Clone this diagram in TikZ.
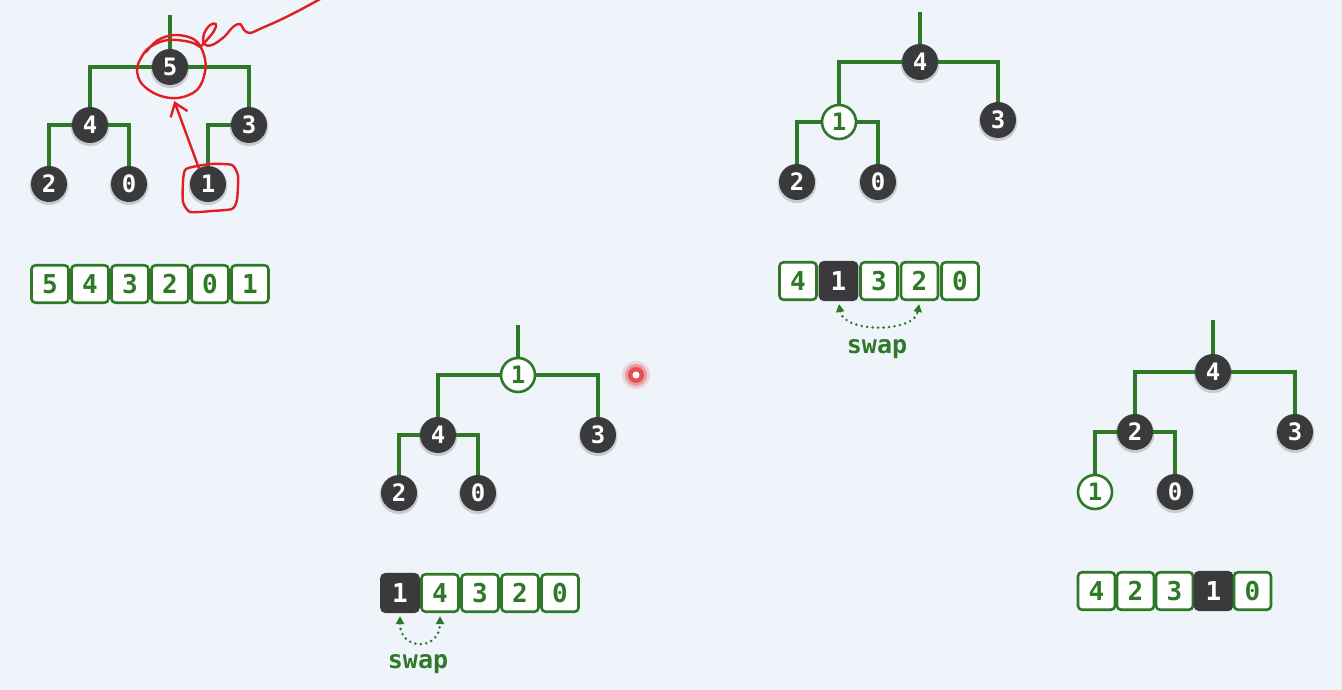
\documentclass[tikz,border=0pt]{standalone}
\usepackage{fontspec}
\newfontfamily\mono{DejaVu Sans Mono}
\usetikzlibrary{arrows.meta,shadows}
\definecolor{bgc}{RGB}{239,244,251}
\definecolor{hgreen}{RGB}{46,120,40}
\definecolor{nodegray}{RGB}{58,58,60}
\definecolor{pen}{RGB}{225,30,35}
\tikzset{
  dk/.style={circle, fill=nodegray, text=white, minimum size=36pt, inner sep=0pt,
    font=\mono\bfseries\fontsize{24}{26}\selectfont,
    drop shadow={opacity=0.35, shadow xshift=0pt, shadow yshift=-1.5pt, shadow scale=1.08}},
  hl/.style={circle, draw=hgreen, line width=2.6pt, fill=white, text=hgreen, minimum size=34pt, inner sep=0pt,
    font=\mono\bfseries\fontsize{24}{26}\selectfont},
  edge/.style={draw=hgreen, line width=3.2pt},
  cell/.style={rectangle, rounded corners=4pt, draw=hgreen, line width=2.6pt, fill=white, text=hgreen,
    minimum width=37pt, minimum height=37.5pt, inner sep=0pt,
    font=\mono\bfseries\fontsize{26}{28}\selectfont},
  dcell/.style={cell, fill=nodegray, draw=nodegray, text=white},
  swaparrow/.style={draw=hgreen, line width=2.8pt, line cap=round, dash pattern=on 0pt off 5.5pt,
    {Triangle[length=8pt,width=8pt]}-{Triangle[length=8pt,width=8pt]}, shorten <=3pt, shorten >=3pt},
  swaptxt/.style={text=hgreen, font=\mono\bfseries\fontsize{25}{27}\selectfont},
  redpen/.style={draw=pen, line width=2.4pt, line cap=round, line join=round}
}
\begin{document}
\begin{tikzpicture}[x=1pt,y=-1pt]
\fill[bgc] (0,0) rectangle (1342,690);
\useasboundingbox (0,0) rectangle (1342,690);

% ---------- Tree 1 ----------
\coordinate (t1) at (170,15);
\node[dk] (a1r) at (170,67) {5};
\node[dk] (a1l) at (90,125) {4};
\node[dk] (a1rr) at (249,125) {3};
\node[dk] (a1ll) at (49,184) {2};
\node[dk] (a1lr) at (129,184) {0};
\node[dk] (a1n) at (208,184) {1};
\draw[edge] (t1) -- (a1r);
\draw[edge] (a1r) -| (a1l);
\draw[edge] (a1r) -| (a1rr);
\draw[edge] (a1l) -| (a1ll);
\draw[edge] (a1l) -| (a1lr);
\draw[edge] (a1rr) -| (a1n);

\node[cell] (c1a) at (50,284) {5};
\node[cell] (c1b) at (90,284) {4};
\node[cell] (c1c) at (130,284) {3};
\node[cell] (c1d) at (170,284) {2};
\node[cell] (c1e) at (210,284) {0};
\node[cell] (c1f) at (250,284) {1};

% red annotations
\draw[redpen] plot[smooth, tension=0.6] coordinates {(146,52) (158,40) (176,35) (195,40) (204,55) (205,72) (197,90) (178,98) (158,95) (142,84) (137,70) (141,58) (150,47) (168,40) (190,42) (200,47)};
\draw[redpen] plot[smooth, tension=0.6] coordinates {(200,47) (206,41) (214,31) (216,24) (210,25) (204,34) (204,44) (212,45) (224,37) (233,27) (240,24) (244,30) (250,33) (262,28) (280,20) (300,10) (322,-2)};
\draw[redpen] plot[smooth cycle, tension=0.35] coordinates {(186,169) (210,164) (232,165) (238,176) (237,200) (232,209) (212,211) (190,212) (183,202) (183,182)};
\draw[redpen, -{Straight Barb[length=12pt,width=18pt]}, shorten >=17pt] (a1n.120) -- (a1r.-95);

% red target marker
\fill[pen, opacity=0.15] (636,375) circle (14);
\fill[pen, opacity=0.3] (636,375) circle (11);
\fill[pen, opacity=0.6] (636,375) circle (8);
\fill[white] (636,375) circle (3.5);

% ---------- Tree 2 ----------
\coordinate (t2) at (518,325);
\node[hl] (a2r) at (518,375) {1};
\node[dk] (a2l) at (438,435) {4};
\node[dk] (a2rr) at (598,435) {3};
\node[dk] (a2ll) at (399,493) {2};
\node[dk] (a2lr) at (478,493) {0};
\draw[edge] (t2) -- (a2r);
\draw[edge] (a2r) -| (a2l);
\draw[edge] (a2r) -| (a2rr);
\draw[edge] (a2l) -| (a2ll);
\draw[edge] (a2l) -| (a2lr);

\node[dcell] (c2a) at (400,593) {1};
\node[cell] (c2b) at (440,593) {4};
\node[cell] (c2c) at (480,593) {3};
\node[cell] (c2d) at (520,593) {2};
\node[cell] (c2e) at (560,593) {0};
\draw[swaparrow] (c2a.south) .. controls +(0,38) and +(0,38) .. (c2b.south);
\node[swaptxt] (s2) at (418,664) {swap};

% ---------- Tree 3 ----------
\coordinate (t3) at (920,12);
\node[dk] (a3r) at (920,62) {4};
\node[hl] (a3l) at (839,122) {1};
\node[dk] (a3rr) at (998,120) {3};
\node[dk] (a3ll) at (797,182) {2};
\node[dk] (a3lr) at (878,182) {0};
\draw[edge] (t3) -- (a3r);
\draw[edge] (a3r) -| (a3l);
\draw[edge] (a3r) -| (a3rr);
\draw[edge] (a3l) -| (a3ll);
\draw[edge] (a3l) -| (a3lr);

\node[cell] (c3a) at (798,281) {4};
\node[dcell] (c3b) at (838.5,281) {1};
\node[cell] (c3c) at (879,281) {3};
\node[cell] (c3d) at (919.5,281) {2};
\node[cell] (c3e) at (960,281) {0};
\draw[swaparrow] (c3b.south) .. controls +(5,32) and +(-5,32) .. (c3d.south);
\node[swaptxt] (s3) at (877,349) {swap};

% ---------- Tree 4 ----------
\coordinate (t4) at (1213,320);
\node[dk] (a4r) at (1213,372) {4};
\node[dk] (a4l) at (1135,432) {2};
\node[dk] (a4rr) at (1295,432) {3};
\node[hl] (a4ll) at (1095,492) {1};
\node[dk] (a4lr) at (1175,492) {0};
\draw[edge] (t4) -- (a4r);
\draw[edge] (a4r) -| (a4l);
\draw[edge] (a4r) -| (a4rr);
\draw[edge] (a4l) -| (a4ll);
\draw[edge] (a4l) -| (a4lr);

\node[cell] (c4a) at (1096.5,591) {4};
\node[cell] (c4b) at (1135.5,591) {2};
\node[cell] (c4c) at (1174.5,591) {3};
\node[dcell] (c4d) at (1213.5,591) {1};
\node[cell] (c4e) at (1252.5,591) {0};
\end{tikzpicture}
\end{document}
